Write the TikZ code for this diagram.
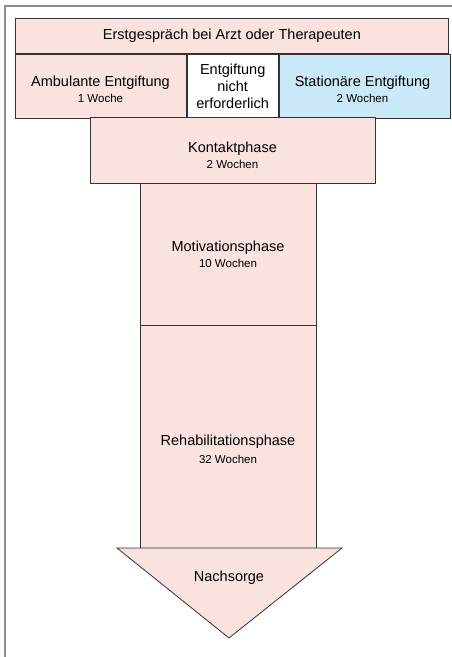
\documentclass[tikz,border=0pt]{standalone}
\usepackage{fontspec}
\setmainfont{Liberation Sans}
\usepackage{tikz}
\usetikzlibrary{positioning, calc}

\definecolor{phasepink}{RGB}{250,227,223}
\definecolor{phaseblue}{RGB}{201,233,249}
\definecolor{framegray}{RGB}{140,140,140}

\begin{document}
\begin{tikzpicture}[x=1pt, y=-1pt]
        \tikzset{
            phasebox/.style={draw=black!80, line width=0.8pt, fill=phasepink, inner sep=0pt, anchor=north west},
            bigtxt/.style={font=\fontsize{14.5pt}{17pt}\selectfont, align=center, inner sep=0pt},
            smalltxt/.style={font=\fontsize{11.5pt}{14pt}\selectfont, inner sep=0pt}
        }
        \useasboundingbox (0,0) rectangle (452,657);

        % Frame
        \draw[framegray, line width=2pt] (5,657) -- (5,6) -- (452,6);

        % Boxes
        \node[phasebox, minimum width=433pt, minimum height=35pt] (erst) at (15,18) {};
        \node[phasebox, minimum width=171pt, minimum height=64pt] (amb) at (erst.south west) {};
        \node[phasebox, fill=white, minimum width=91pt, minimum height=64pt, right=0pt of amb.north east, anchor=north west] (nicht) {};
        \node[phasebox, fill=phaseblue, minimum width=171pt, minimum height=64pt, right=0pt of nicht.north east, anchor=north west] (stat) {};
        \node[phasebox, minimum width=285pt, minimum height=66pt] (kontakt) at (90,117) {};
        \node[phasebox, minimum width=176pt, minimum height=142pt] (motiv) at (140,183) {};
        \node[phasebox, minimum width=176pt, minimum height=223pt] (rehab) at (140,325) {};
        \draw[draw=black!80, line width=0.8pt, fill=phasepink] (117,548) -- (342,548) -- (229,638) -- cycle;

        % Texts
        \node[bigtxt] (erstT) at (erst.center) {Erstgespräch bei Arzt oder Therapeuten};
        \node[bigtxt] (ambT) at (100.5,83) {Ambulante Entgiftung};
        \node[smalltxt, below=4pt of ambT] (ambW) {1 Woche};
        \node[bigtxt] (nichtT) at (nicht.center) {Entgiftung\\nicht\\erforderlich};
        \node[bigtxt] (statT) at (362.5,83) {Stationäre Entgiftung};
        \node[smalltxt, below=4pt of statT] (statW) {2 Wochen};
        \node[bigtxt] (kontaktT) at (232.5,149) {Kontaktphase};
        \node[smalltxt, below=4pt of kontaktT] (kontaktW) {2 Wochen};
        \node[bigtxt] (motivT) at (228,248) {Motivationsphase};
        \node[smalltxt, below=4pt of motivT] (motivW) {10 Wochen};
        \node[bigtxt] (rehabT) at (228,442) {Rehabilitationsphase};
        \node[smalltxt, below=6pt of rehabT] (rehabW) {32 Wochen};
        \node[bigtxt] (nachT) at (229,578) {Nachsorge};
    \end{tikzpicture}
\end{document}
